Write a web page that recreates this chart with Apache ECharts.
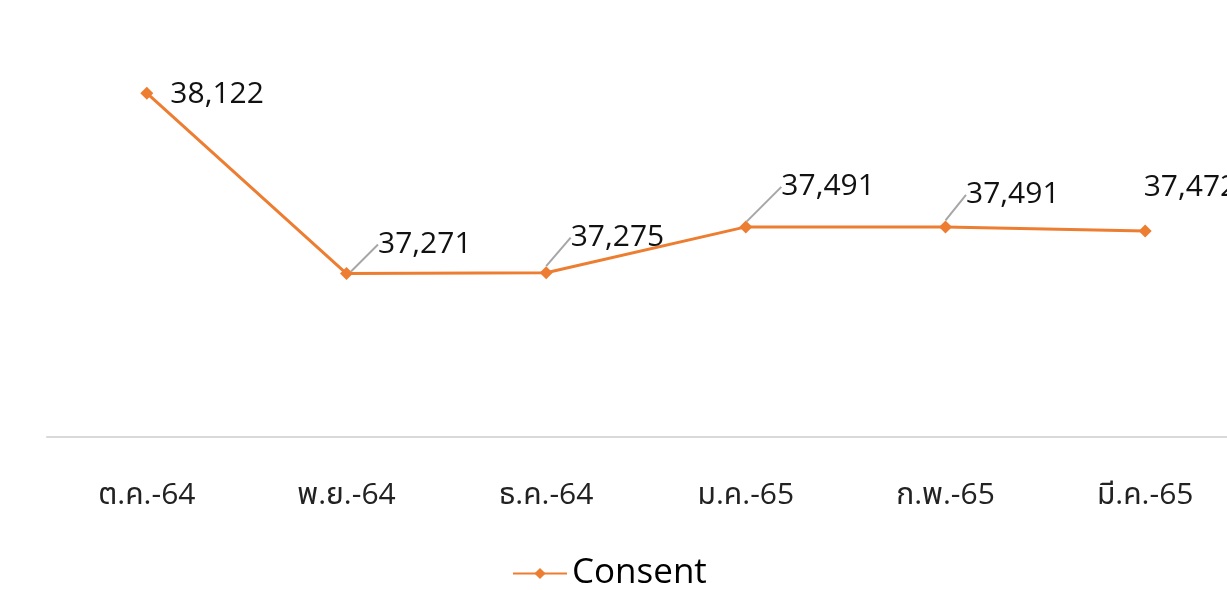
<!DOCTYPE html>
<html>
<head>
<meta charset="utf-8">
<script src="https://cdn.jsdelivr.net/npm/echarts@6/dist/echarts.min.js"></script>
<style>
  html, body { margin: 0; padding: 0; background: #fff; overflow: hidden; width: 1227px; height: 590px; }
  /* the plot runs a little past the right edge of the page, so the canvas is wider than the window */
  #chart { width: 1245px; height: 590px; }
</style>
</head>
<body>
<div id="chart"></div>
<script>
// Monthly consent counts
const months = ['ต.ค.-64', 'พ.ย.-64', 'ธ.ค.-64', 'ม.ค.-65', 'ก.พ.-65', 'มี.ค.-65'];
const consent = [38122, 37271, 37275, 37491, 37491, 37472];
const seriesName = 'Consent';

// Label nudges (dx, dy) from the default right-hand label spot
const labelShift = [[12, 1], [20, -29], [13, -35], [24, -40], [9, -32], [-13, -43]];
const showLeader = [false, true, true, true, true, false];

const orange = '#ED7D31';
const font = '"Open Sans", "Noto Sans", "Noto Sans Thai", "DejaVu Sans", sans-serif';

const chart = echarts.init(document.getElementById('chart'), null, { renderer: 'canvas' });
chart.setOption({
  animation: false,
  backgroundColor: '#ffffff',
  grid: { left: 47, right: 0, top: 13, bottom: 153 },
  legend: {
    bottom: -6,
    left: 507,
    itemWidth: 54,
    itemHeight: 14,
    itemGap: 10,
    textStyle: { fontFamily: font, fontSize: 35, color: '#000' },
    data: [seriesName]
  },
  xAxis: {
    type: 'category',
    data: months,
    boundaryGap: true,
    axisLine: { lineStyle: { color: '#d9d9d9', width: 2 } },
    axisTick: { show: false },
    axisLabel: { fontFamily: font, fontSize: 30, color: '#222', margin: 43 }
  },
  yAxis: {
    type: 'value',
    min: 36500,
    max: 38500,
    show: false,
    splitLine: { show: false }
  },
  series: [{
    name: seriesName,
    type: 'line',
    data: consent.map((v, i) => ({
      value: v,
      labelLine: { show: showLeader[i] }
    })),
    symbol: 'diamond',
    symbolSize: 13,
    itemStyle: { color: orange },
    lineStyle: { color: orange, width: 3 },
    label: {
      show: true,
      position: 'right',
      distance: 5,
      fontFamily: font,
      fontSize: 30,
      color: '#111',
      formatter: p => p.value.toLocaleString('en-US')
    },
    labelLine: {
      show: true,
      lineStyle: { color: '#a6a6a6', width: 2 }
    },
    labelLayout: p => ({ dx: labelShift[p.dataIndex][0], dy: labelShift[p.dataIndex][1] })
  }]
});
</script>
</body>
</html>
